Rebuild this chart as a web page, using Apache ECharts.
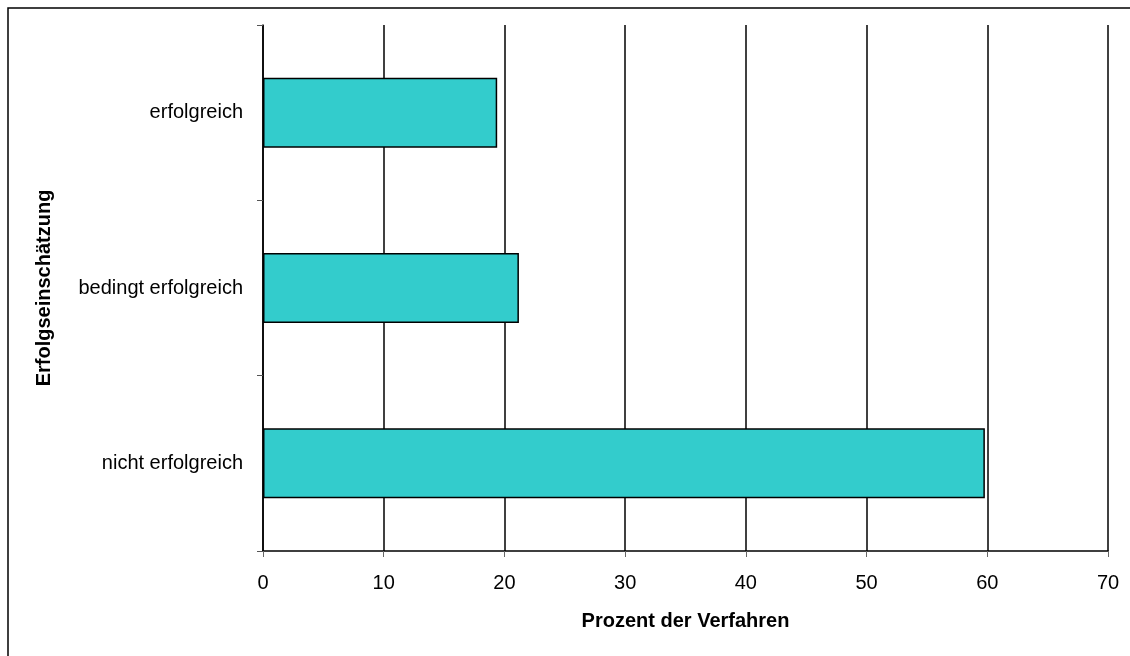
<!DOCTYPE html>
<html>
<head>
<meta charset="utf-8">
<script src="https://cdn.jsdelivr.net/npm/echarts@6/dist/echarts.min.js"></script>
<style>
    html, body { margin: 0; padding: 0; background: #fff; }
    #chart { width: 1130px; height: 656px; }
</style>
</head>
<body>
<div id="chart"></div>
<script>
// Kategorien (von oben nach unten)
var categories = ['erfolgreich', 'bedingt erfolgreich', 'nicht erfolgreich'];
// Prozent der Verfahren
var values = [19.4, 21.2, 59.8];
var xTicks = [0, 10, 20, 30, 40, 50, 60, 70];

var myChart = echarts.init(document.getElementById('chart'));

var option = {
    backgroundColor: '#fff',
    animation: false,
    textStyle: {
        fontFamily: 'Liberation Sans, Arial, sans-serif'
    },
    // Rahmen um das Diagramm
    graphic: [{
        type: 'rect',
        shape: { x: 8, y: 8, width: 1300, height: 900 },
        style: { fill: 'none', stroke: '#000', lineWidth: 1.5 },
        silent: true
    }],
    grid: {
        left: 263,
        right: 22,
        top: 25,
        bottom: 105
    },
    xAxis: {
        type: 'value',
        min: xTicks[0],
        max: xTicks[xTicks.length - 1],
        interval: 10,
        name: 'Prozent der Verfahren',
        nameLocation: 'middle',
        nameGap: 60,
        nameTextStyle: {
            color: '#000',
            fontSize: 20,
            fontWeight: 'bold'
        },
        axisLine: {
            show: true,
            lineStyle: { color: '#000', width: 1.5 }
        },
        axisTick: {
            show: true,
            length: 6,
            lineStyle: { color: '#666' }
        },
        axisLabel: {
            color: '#000',
            fontSize: 20,
            margin: 22
        },
        splitLine: {
            show: true,
            lineStyle: { color: '#000', width: 1.5 }
        }
    },
    yAxis: {
        type: 'category',
        data: categories,
        inverse: true,
        name: 'Erfolgseinschätzung',
        nameLocation: 'middle',
        nameGap: 209,
        nameRotate: 90,
        nameTextStyle: {
            color: '#000',
            fontSize: 20,
            fontWeight: 'bold'
        },
        axisLine: {
            show: true,
            lineStyle: { color: '#000', width: 1.5 }
        },
        axisTick: {
            show: true,
            length: 6,
            lineStyle: { color: '#555' }
        },
        axisLabel: {
            color: '#000',
            fontSize: 20,
            margin: 20
        },
        splitLine: { show: false }
    },
    series: [{
        type: 'bar',
        data: values,
        barWidth: 70,
        itemStyle: {
            color: '#33CCCC',
            borderColor: '#000',
            borderWidth: 1.5
        }
    }]
};

myChart.setOption(option);
</script>
</body>
</html>
